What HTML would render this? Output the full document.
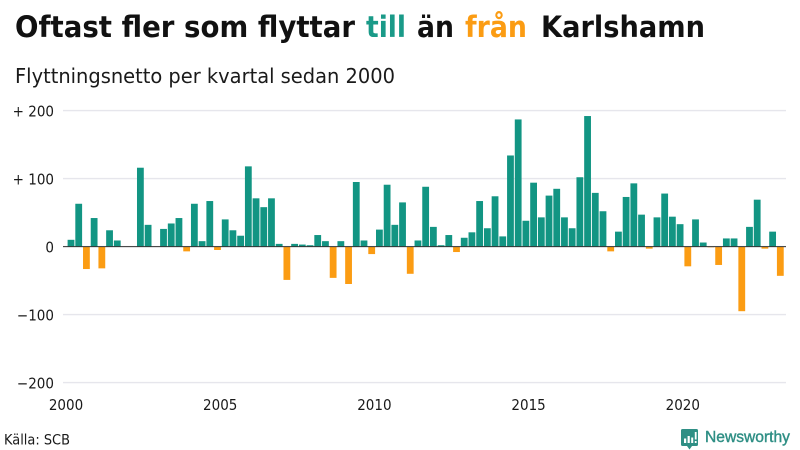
<!DOCTYPE html>
<html lang="sv">
<head>
<meta charset="utf-8">
<title>Oftast fler som flyttar till än från Karlshamn</title>
<style>
html,body{margin:0;padding:0;background:#fff;}
svg{display:block;font-family:"DejaVu Sans","Liberation Sans",sans-serif;}
</style>
</head>
<body>
<svg id="chart" xmlns="http://www.w3.org/2000/svg" width="800" height="450" viewBox="0 0 800 450">
  <rect width="800" height="450" fill="#fff"/>
  <g font-size="29.5" font-weight="700" fill="#111">
    <text x="15" y="37" textLength="340" lengthAdjust="spacingAndGlyphs">Oftast fler som flyttar</text>
    <text x="366" y="37" textLength="40" lengthAdjust="spacingAndGlyphs" fill="#1a9a88">till</text>
    <text x="417" y="37" textLength="37" lengthAdjust="spacingAndGlyphs">än</text>
    <text x="465" y="37" textLength="62" lengthAdjust="spacingAndGlyphs" fill="#fb9c13">från</text>
    <text x="541" y="37" textLength="164" lengthAdjust="spacingAndGlyphs">Karlshamn</text>
  </g>
  <text x="15" y="83" font-size="20" fill="#1a1a1a" textLength="380" lengthAdjust="spacingAndGlyphs">Flyttningsnetto per kvartal sedan 2000</text>
  <g id="grid"></g>
  <g id="bars"></g>
  <g id="yticks"></g>
  <g id="xticks"></g>
  <line id="zero" x1="63" x2="786" stroke="#333" stroke-width="1"/>
  <text x="4" y="444.500" font-size="14.500" fill="#1a1a1a" textLength="66" lengthAdjust="spacingAndGlyphs">Källa: SCB</text>
  <g>
    <path d="M682.500 429h14a1.500 1.500 0 0 1 1.500 1.500v14a1.500 1.500 0 0 1-1.500 1.500h-4.500l-2.500 3.500-2.500-3.500h-4.500a1.500 1.500 0 0 1-1.500-1.500v-14a1.500 1.500 0 0 1 1.500-1.500z" fill="#2f8f85"/>
    <path d="M684 438.500h2.200v4.500H684zM687.600 436h2.200v7h-2.200zM691.200 437.500h2v5.500h-2zM694.800 432h1.800v7.500h-1.800zM694.800 441h1.800v2h-1.800z" fill="#fff"/>
    <text x="705" y="442" font-family="'Liberation Sans',sans-serif" font-size="15.500" font-weight="400" fill="#2f8f85" stroke="#2f8f85" stroke-width="0.400" textLength="85" lengthAdjust="spacingAndGlyphs">Newsworthy</text>
  </g>
</svg>
<script>
const startYear = 2000;
const quartersPerYear = 4;
const netMigration = [
  10, 63, -33, 42, -32, 24, 9, 0, 0, 116, 32, 0, 26, 34, 42, -7, 63, 8, 67, -5,
  40, 24, 16, 118, 71, 58, 71, 4, -49, 4, 3, 2, 17, 8, -46, 8, -55, 95, 9, -11,
  25, 91, 32, 65, -40, 9, 88, 29, 2, 17, -8, 13, 21, 67, 27, 74, 15, 134, 187, 38,
  94, 43, 75, 85, 43, 27, 102, 192, 79, 52, -7, 22, 73, 93, 47, -3, 43, 78, 44, 33,
  -29, 40, 6, -1, -27, 12, 12, -95, 29, 69, -3, 22, -43
];
const yTickValues = [200, 100, 0, -100, -200];
const yTickLabels = ["+ 200", "+ 100", "0", "\u2212100", "\u2212200"];
const xTickYears = [2000, 2005, 2010, 2015, 2020];

const SVG_NS = "http://www.w3.org/2000/svg";
const quarterStep = 7.71;
const axisOrigin = 66;
const barOffset = 5;
const barWidth = 6.8;
function xAxis(quarterIndex) { return axisOrigin + quarterIndex * quarterStep; }
function yAxis(value) { return 246.6 - value * 0.68; }
function narrowText(node) {
  node.setAttribute("textLength", node.getComputedTextLength() * 0.9);
  node.setAttribute("lengthAdjust", "spacingAndGlyphs");
}

const grid = document.getElementById("grid");
const yticks = document.getElementById("yticks");
yTickValues.forEach(function (value, i) {
  const line = document.createElementNS(SVG_NS, "line");
  
  
  line.setAttribute("x1", 63);
  line.setAttribute("x2", 786);
  line.setAttribute("y1", yAxis(value));
  line.setAttribute("y2", yAxis(value));
  line.setAttribute("stroke", "#e6e6ec");
  line.setAttribute("stroke-width", 1.4);
  grid.appendChild(line);

  const label = document.createElementNS(SVG_NS, "text");
  
  
  label.setAttribute("x", 54);
  label.setAttribute("y", yAxis(value) + 5.8);
  label.setAttribute("text-anchor", "end");
  label.setAttribute("font-size", 15);
  label.setAttribute("fill", "#1a1a1a");
  label.textContent = yTickLabels[i];
  yticks.appendChild(label);
  narrowText(label);
});

const bars = document.getElementById("bars");
netMigration.forEach(function (value, i) {
  if (value === 0) return;
  const bar = document.createElementNS(SVG_NS, "rect");
  
  
  bar.setAttribute("x", xAxis(i) + barOffset - barWidth / 2);
  bar.setAttribute("width", barWidth);
  bar.setAttribute("y", Math.min(yAxis(value), yAxis(0)));
  bar.setAttribute("height", Math.abs(yAxis(value) - yAxis(0)));
  bar.setAttribute("fill", value > 0 ? "#129583" : "#fb9c13");
  bars.appendChild(bar);
});

const xticks = document.getElementById("xticks");
xTickYears.forEach(function (year) {
  const label = document.createElementNS(SVG_NS, "text");
  
  
  label.setAttribute("x", xAxis((year - startYear) * quartersPerYear));
  label.setAttribute("y", 410);
  label.setAttribute("text-anchor", "middle");
  label.setAttribute("font-size", 15);
  label.setAttribute("fill", "#1a1a1a");
  label.textContent = String(year);
  xticks.appendChild(label);
  narrowText(label);
});

const zero = document.getElementById("zero");
zero.setAttribute("y1", yAxis(0));
zero.setAttribute("y2", yAxis(0));
</script>
</body>
</html>
